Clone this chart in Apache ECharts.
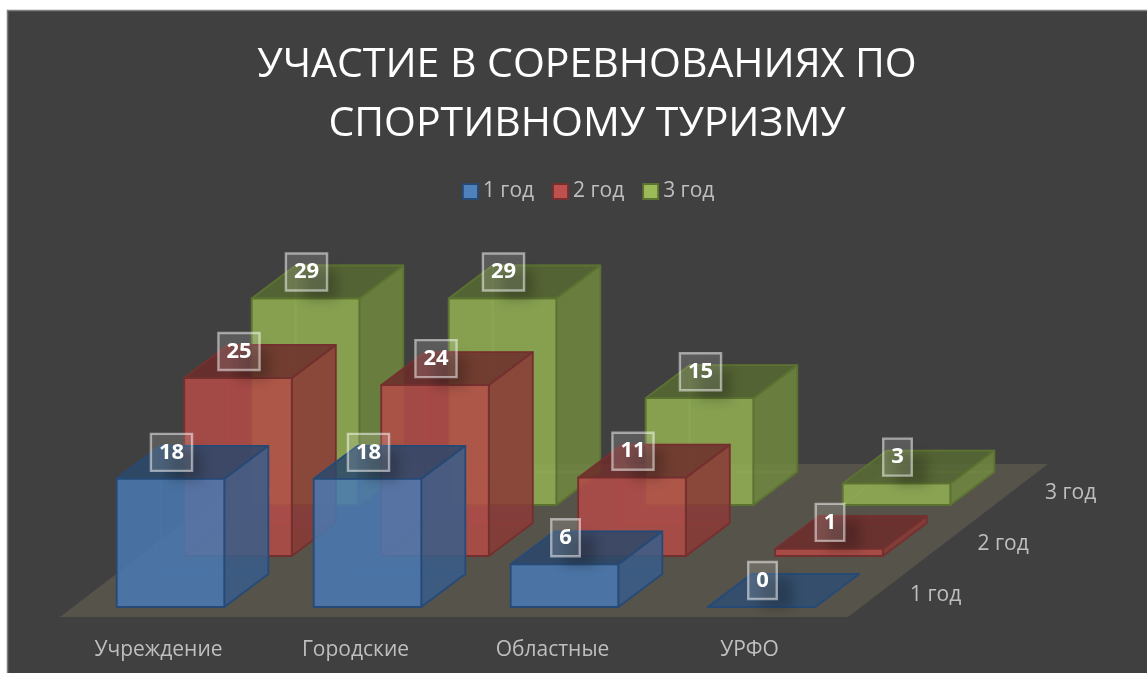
<!DOCTYPE html>
<html>
<head>
<meta charset="utf-8">
<title>Участие в соревнованиях</title>
<script src="https://cdn.jsdelivr.net/npm/echarts@6/dist/echarts.min.js"></script>
<style>
  html, body { margin: 0; padding: 0; background: #fff; }
  #chart { width: 1147px; height: 673px; }
</style>
</head>
<body>
<div id="chart"></div>
<script>
const categories = ['Учреждение', 'Городские', 'Областные', 'УРФО']
const rows = ['1 год', '2 год', '3 год']
const year1 = [18, 18, 6, 0]
const year2 = [25, 24, 11, 1]
const year3 = [29, 29, 15, 3]

const colors = ['#4f81bd', '#c0504d', '#9bbb59']
const edges = ['#264a75', '#74302e', '#5b7230']
const fontName = '"Open Sans", sans-serif'

// pixel offsets of the fake 3d projection
const rowStep = [67.5, -51]
const barDepth = [44, -33]
const floorGap = [12, -10]
const floorDepth = [200, -153]

function shade(hex, k, alpha) {
  const n = parseInt(hex.slice(1), 16)
  const r = Math.round((n >> 16) * k)
  const g = Math.round(((n >> 8) & 255) * k)
  const b = Math.round((n & 255) * k)
  return `rgba(${r},${g},${b},${alpha})`
}

function barItem(rowIndex) {
  return function (params, api) {
    const idx = api.value(0)
    const val = api.value(1)
    const w = api.size([1, 0])[0] * 0.546
    const sx = floorGap[0] + rowStep[0] * rowIndex
    const sy = floorGap[1] + rowStep[1] * rowIndex
    const top = api.coord([idx, val])
    const base = api.coord([idx, 0])
    const x0 = top[0] - w / 2 + sx
    const x1 = x0 + w
    const yt = top[1] + sy
    const yb = base[1] + sy
    const dx = barDepth[0]
    const dy = barDepth[1]
    const color = colors[rowIndex]
    const edge = edges[rowIndex]
    const face = (points, fill, stroke) => ({
      type: 'polygon',
      shape: { points },
      style: { fill, stroke: stroke || edge, lineWidth: 1.8, lineJoin: 'round' }
    })
    const innerLine = shade(color, 0.75, 0.35)
    const children = [
      // inner faces, seen through the box
      face([[x0, yb], [x1, yb], [x1 + dx, yb + dy], [x0 + dx, yb + dy]], shade(color, 0.7, 0.12), innerLine),
      face([[x0 + dx, yb + dy], [x1 + dx, yb + dy], [x1 + dx, yt + dy], [x0 + dx, yt + dy]], shade(color, 0.9, 0.08), innerLine),
      face([[x0, yb], [x0 + dx, yb + dy], [x0 + dx, yt + dy], [x0, yt]], shade(color, 0.8, 0.08), innerLine)
    ]
    if (val > 0) {
      children.push(
        face([[x1, yb], [x1 + dx, yb + dy], [x1 + dx, yt + dy], [x1, yt]], shade(color, 0.72, 0.85)),
        face([[x0, yt], [x1, yt], [x1 + dx, yt + dy], [x0 + dx, yt + dy]], shade(color, 0.56, 0.85)),
        face([[x0, yb], [x1, yb], [x1, yt], [x0, yt]], shade(color, 0.94, 0.85))
      )
    } else {
      children.push(face([[x0, yb], [x1, yb], [x1 + dx, yb + dy], [x0 + dx, yb + dy]], shade(color, 0.6, 0.85)))
    }
    const labelX = (x0 + x1) / 2 + 1
    const labelY = yt - 26.5
    // soft shadow of the label box, the rect itself sits off canvas
    children.push({
      type: 'rect',
      z2: 99,
      shape: { x: labelX - 2000 - 2, y: labelY - 2, width: 32, height: 30 },
      style: {
        fill: '#000',
        shadowColor: 'rgba(0,0,0,0.22)',
        shadowBlur: 12,
        shadowOffsetX: 2000
      }
    })
    children.push({
      type: 'text',
      z2: 100,
      style: {
        text: String(val),
        x: labelX,
        y: labelY,
        align: 'center',
        verticalAlign: 'middle',
        fill: '#fff',
        font: 'bold 22px ' + fontName,
        lineHeight: 21,
        backgroundColor: 'rgba(255,255,255,0.14)',
        borderColor: 'rgba(255,255,255,0.5)',
        borderWidth: 1.2,
        padding: [8, 8, 8, 8]
      }
    })
    return { type: 'group', children }
  }
}

function floorItem(params, api) {
  const cs = params.coordSys
  const xl = cs.x
  const xr = cs.x + cs.width
  const yb = cs.y + cs.height
  const fx = floorDepth[0]
  const fy = floorDepth[1]
  const children = [{
    type: 'polygon',
    shape: { points: [[xl, yb], [xr, yb], [xr + fx, yb + fy], [xl + fx, yb + fy]] },
    style: { fill: '#56534a' }
  }]
  rows.forEach((name, i) => {
    children.push({
      type: 'text',
      style: {
        text: name,
        x: xr + 62 + rowStep[0] * i,
        y: yb - 22 + rowStep[1] * i,
        align: 'left',
        verticalAlign: 'middle',
        fill: '#bfbfbf',
        font: '21px ' + fontName
      }
    })
  })
  return { type: 'group', children }
}

const chart = echarts.init(document.getElementById('chart'), null, { renderer: 'canvas' })

const toItems = arr => arr.map((v, i) => [i, v])

chart.setOption({
  animation: false,
  backgroundColor: '#fff',
  graphic: [{
    type: 'rect',
    z: -10,
    silent: true,
    shape: { x: 7.5, y: 10.5, width: 1160, height: 680 },
    style: { fill: '#404040', stroke: '#7f7f7f', lineWidth: 1.5 }
  }],
  title: {
    text: 'УЧАСТИЕ В СОРЕВНОВАНИЯХ ПО\nСПОРТИВНОМУ ТУРИЗМУ',
    left: 582,
    top: 31,
    textAlign: 'center',
    textStyle: {
      color: '#fff',
      fontFamily: fontName,
      fontWeight: 'normal',
      fontSize: 41,
      lineHeight: 59
    }
  },
  legend: {
    left: 457,
    top: 176,
    itemWidth: 15,
    itemHeight: 15,
    itemGap: 18,
    icon: 'rect',
    textStyle: { color: '#bfbfbf', fontSize: 21, fontFamily: fontName },
    data: rows.map((name, i) => ({
      name,
      itemStyle: { color: colors[i], borderColor: edges[i], borderWidth: 1.8 }
    }))
  },
  grid: { left: 60, width: 788, top: 261, height: 356 },
  xAxis: {
    type: 'category',
    data: categories,
    axisLine: { show: false },
    axisTick: { show: false },
    axisLabel: { color: '#bfbfbf', fontSize: 21, fontFamily: fontName, margin: 23 }
  },
  yAxis: {
    type: 'value',
    min: 0,
    max: 50,
    show: false
  },
  series: [
    { type: 'custom', name: 'floor', silent: true, renderItem: floorItem, data: [[0, 0]], z: 1 },
    { type: 'custom', name: rows[2], renderItem: barItem(2), data: toItems(year3), itemStyle: { color: colors[2] }, z: 2 },
    { type: 'custom', name: rows[1], renderItem: barItem(1), data: toItems(year2), itemStyle: { color: colors[1] }, z: 2 },
    { type: 'custom', name: rows[0], renderItem: barItem(0), data: toItems(year1), itemStyle: { color: colors[0] }, z: 2 }
  ]
})

window.addEventListener('resize', () => chart.resize())
</script>
</body>
</html>
